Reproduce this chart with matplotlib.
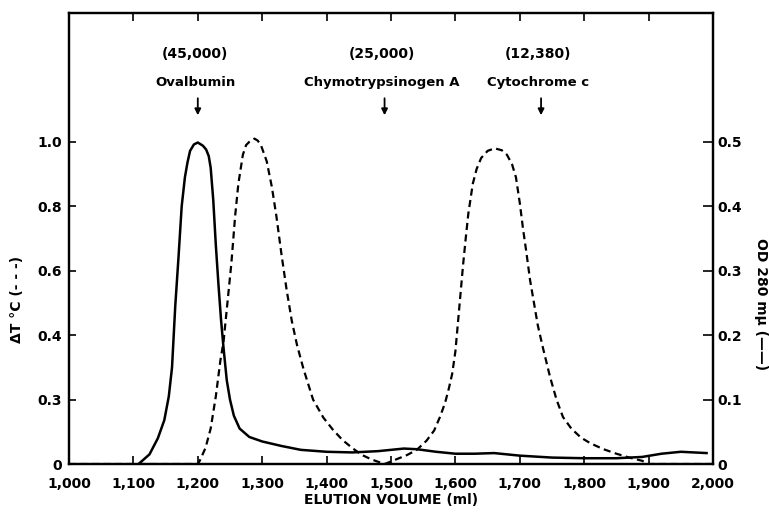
import matplotlib
matplotlib.use("Agg")
import matplotlib.pyplot as plt

# Elution profile

# OD 280 (solid line, right axis)
od_volume = [1108, 1125, 1138, 1148, 1155, 1160, 1165, 1170, 1175, 1180, 1184,
             1188, 1194, 1200, 1208, 1213, 1217, 1220, 1224, 1228, 1232, 1236,
             1240, 1245, 1250, 1256, 1265, 1280, 1300, 1330, 1360, 1400, 1440,
             1480, 1520, 1540, 1570, 1600, 1630, 1660, 1700, 1750, 1800, 1850,
             1890, 1920, 1950, 1990]
od_value = [0.000, 0.015, 0.040, 0.068, 0.105, 0.150, 0.245, 0.320, 0.400, 0.445, 0.468,
            0.486, 0.496, 0.499, 0.494, 0.488, 0.478, 0.460, 0.410, 0.340, 0.280, 0.225,
            0.180, 0.130, 0.100, 0.075, 0.055, 0.042, 0.035, 0.028, 0.022, 0.019, 0.018,
            0.020, 0.024, 0.023, 0.019, 0.016, 0.016, 0.017, 0.013, 0.010, 0.009, 0.009,
            0.011, 0.016, 0.019, 0.017]

# delta T (dashed line, left axis)
dt_volume = [1000, 1200, 1203, 1212, 1220, 1228, 1235, 1240, 1246, 1252, 1258, 1263,
             1270, 1275, 1280, 1288, 1293, 1298, 1307, 1315, 1322, 1330, 1338, 1346,
             1354, 1364, 1379, 1395, 1410, 1425, 1441, 1455, 1470, 1490, 1505, 1525,
             1540, 1555, 1567, 1576, 1584, 1590, 1595, 1600, 1604, 1608, 1612, 1616,
             1620, 1627, 1633, 1640, 1650, 1661, 1672, 1680, 1688, 1694, 1700, 1705,
             1710, 1716, 1722, 1728, 1736, 1747, 1757, 1767, 1780, 1795, 1810, 1830,
             1850, 1870, 1890, 1900, 2000]
dt_value = [0.0, 0.0, 0.010, 0.050, 0.110, 0.210, 0.320, 0.380, 0.500, 0.620, 0.770, 0.870,
            0.960, 0.990, 1.000, 1.010, 1.004, 0.990, 0.940, 0.860, 0.770, 0.650, 0.540, 0.444,
            0.370, 0.296, 0.200, 0.144, 0.106, 0.074, 0.048, 0.028, 0.014, 0.0, 0.012, 0.028,
            0.044, 0.072, 0.104, 0.146, 0.190, 0.236, 0.280, 0.350, 0.440, 0.530, 0.620, 0.700,
            0.776, 0.870, 0.916, 0.950, 0.972, 0.980, 0.974, 0.960, 0.930, 0.890, 0.810, 0.730,
            0.660, 0.570, 0.500, 0.430, 0.360, 0.270, 0.200, 0.146, 0.110, 0.082, 0.064, 0.046,
            0.032, 0.020, 0.010, 0.0, 0.0]

x_ticks = [1000, 1100, 1200, 1300, 1400, 1500, 1600, 1700, 1800, 1900, 2000]
x_labels = ["1,000", "1,100", "1,200", "1,300", "1,400", "1,500",
            "1,600", "1,700", "1,800", "1,900", "2,000"]
left_ticks = [0, 0.2, 0.4, 0.6, 0.8, 1.0]
left_labels = ["0", "0.3", "0.4", "0.6", "0.8", "1.0"]
right_ticks = [0, 0.1, 0.2, 0.3, 0.4, 0.5]
right_labels = ["0", "0.1", "0.2", "0.3", "0.4", "0.5"]

proteins = ["Ovalbumin", "Chymotrypsinogen A", "Cytochrome c"]
weights = ["(45,000)", "(25,000)", "(12,380)"]
marker_volume = [1200, 1490, 1733]

plt.rcParams["font.family"] = "DejaVu Sans"
plt.rcParams["font.weight"] = "bold"

fig = plt.figure(figsize=(7.69, 5.12), dpi=100)
ax = fig.add_axes([0.0897, 0.0937, 0.8375, 0.8809])
ax2 = ax.twinx()

ax.plot(dt_volume, dt_value, color="black", lw=1.6, linestyle=(0, (3.2, 2.0)))
ax2.plot(od_volume, od_value, color="black", lw=1.8)

ax.set_xlim(1000, 2000)
ax.set_ylim(0, 1.4)
ax2.set_ylim(0, 0.7)

ax.set_xticks(x_ticks)
ax.set_xticklabels(x_labels, fontsize=10, fontweight="bold")
ax.set_yticks(left_ticks)
ax.set_yticklabels(left_labels, fontsize=10, fontweight="bold")
ax2.set_yticks(right_ticks)
ax2.set_yticklabels(right_labels, fontsize=10, fontweight="bold")

ax.tick_params(axis="x", direction="in", length=6, width=1.2, top=True, pad=9)
ax.tick_params(axis="y", direction="in", length=5, width=1.2, pad=5)
ax2.tick_params(axis="y", direction="in", length=7, width=1.2, pad=3)

for a in (ax, ax2):
    for s in a.spines.values():
        s.set_linewidth(1.6)

ax.set_xlabel("ELUTION VOLUME (ml)", fontsize=10, fontweight="bold", labelpad=2)
ax.set_ylabel("ΔT °C (- - -)", fontsize=10, fontweight="bold")
ax.yaxis.set_label_coords(-0.070, 0.364)
ax2.set_ylabel("OD 280 mμ (——)", fontsize=10, fontweight="bold", rotation=-90)
ax2.yaxis.set_label_coords(1.085, 0.355)

# protein markers
for name, mw, v in zip(proteins, weights, marker_volume):
    ax2.annotate("", xy=(v, 0.537), xytext=(v, 0.572),
                 arrowprops=dict(arrowstyle="-|>", color="black", lw=1.3,
                                 mutation_scale=9))
    ax2.text(v - 4, 0.636, mw, ha="center", va="center", fontsize=10, fontweight="bold")
    ax2.text(v - 4, 0.592, name, ha="center", va="center", fontsize=9.5, fontweight="bold")

plt.savefig("out.png", dpi=100)
plt.close()
